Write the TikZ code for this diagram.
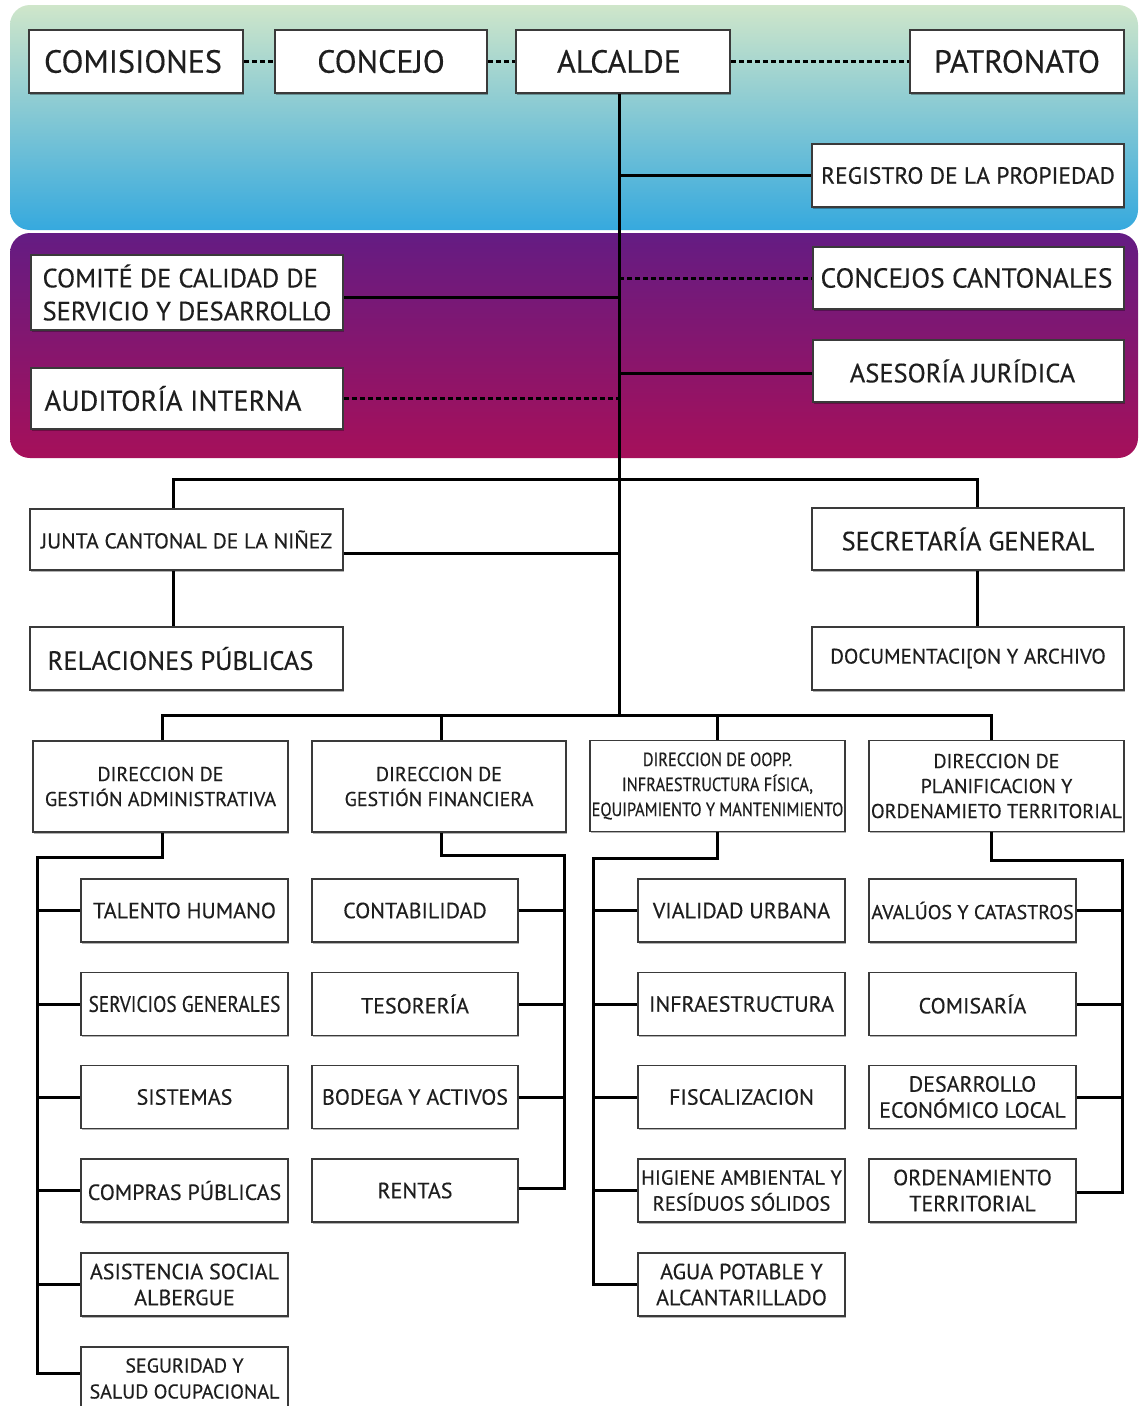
\documentclass[tikz,border=0pt]{standalone}
\usepackage{fontspec}
\setmainfont{PT Sans}[FakeBold=0.35]
\newfontfamily\condf{PT Sans}[FakeStretch=0.86,FakeBold=0.35]
\usetikzlibrary{shadows,calc}
\definecolor{bandA}{HTML}{CFE6CA}
\definecolor{bandB}{HTML}{36A9DE}
\definecolor{purA}{HTML}{641C83}
\definecolor{purB}{HTML}{A6105A}
\definecolor{edgec}{HTML}{3A3A3A}
\definecolor{txt}{HTML}{1E1E1E}
\begin{document}
\begin{tikzpicture}[x=1pt,y=-1pt,
  box/.style={draw=edgec, line width=1.6pt, fill=white, align=center, inner sep=0pt, text=txt,
    drop shadow={shadow xshift=1pt, shadow yshift=-1.5pt, opacity=0.3, fill=black}},
  conn/.style={line width=3pt, black, line join=miter},
  dconn/.style={line width=3pt, black, dash pattern=on 5pt off 3pt},
  fbig/.style={font=\fontsize{32}{36}\selectfont},
  fmid/.style={font=\fontsize{26.5}{30}\selectfont},
  fsm/.style={font=\fontsize{21.5}{25}\selectfont},
  fdir/.style={font=\fontsize{20}{25}\selectfont},
  fsub/.style={font=\fontsize{22}{26}\selectfont},
  fsubn/.style={font=\fontsize{20}{26}\selectfont},
  wide/.style={minimum width=312, minimum height=63},
  dirbox/.style={minimum width=255, minimum height=91},
  subbox/.style={minimum width=207, minimum height=63},
]
\useasboundingbox (0,0) rectangle (1140,1406);
\fill[white] (0,0) rectangle (1140,1406);
% bands
\shade[top color=bandA, bottom color=bandB, rounded corners=20pt] (10,5) rectangle (1138,230);
\shade[top color=purA, bottom color=purB, rounded corners=20pt] (10,233) rectangle (1138,458);

% coordinates
\coordinate (sx) at (619,0);
\coordinate (bus) at (619,715);
\coordinate (jl) at (173,479);
\coordinate (sr) at (977,479);
\coordinate (b1) at (162,715);
\coordinate (b2) at (441,715);
\coordinate (b3) at (717,715);
\coordinate (b4) at (991,715);
\coordinate (e1) at (37,857);
\coordinate (e2) at (564,855);
\coordinate (e3) at (593,858);
\coordinate (e4) at (1122,860);

% top row
\node[box,fbig,minimum width=214,minimum height=63] (com) at (136,61.5) {\hspace*{-6pt}COMISIONES};
\node[box,fbig,minimum width=212,minimum height=63] (con) at (381,61.5) {CONCEJO};
\node[box,fbig,minimum width=214,minimum height=63] (alc) at (623,61.5) {\hspace*{-8pt}ALCALDE};
\node[box,fbig,minimum width=214,minimum height=63] (pat) at (1017,61.5) {PATRONATO};
\node[box,font=\fontsize{23.5}{27}\selectfont,wide] (reg) at (968,175.5) {REGISTRO DE LA PROPIEDAD};

% purple band
\node[box,font=\fontsize{26.5}{33}\selectfont,minimum width=312,minimum height=75,align=left] (cmt) at (187,292.5) {COMITÉ DE CALIDAD DE\\SERVICIO Y DESARROLLO};
\node[box,font=\fontsize{27.5}{30}\selectfont,minimum width=311,minimum height=62] (ccn) at (968.5,278) {\hspace*{-4pt}CONCEJOS CANTONALES};
\node[box,fmid,minimum width=311,minimum height=62] (ase) at (968.5,371) {\hspace*{-12pt}ASESORÍA JURÍDICA};
\node[box,font=\fontsize{28.5}{30}\selectfont,minimum width=312,minimum height=61] (aud) at (187,398.5) {\hspace*{-28pt}AUDITORÍA INTERNA};

% middle
\node[box,fsm,minimum width=313,minimum height=61] (jun) at (186.5,539.5) {JUNTA CANTONAL DE LA NIÑEZ};
\node[box,fmid,minimum width=313,minimum height=63] (rel) at (186.5,658.5) {\hspace*{-12pt}RELACIONES PÚBLICAS};
\node[box,font=\fontsize{26.3}{30}\selectfont,minimum width=312,minimum height=62] (sec) at (968,539) {SECRETARÍA GENERAL};
\node[box,font=\fontsize{21}{25}\selectfont,minimum width=312,minimum height=63] (doc) at (968,658.5) {DOCUMENTACI[ON Y ARCHIVO};

% directors
\node[box,fdir,dirbox] (d1) at (160.5,786.5) {DIRECCION DE\\GESTIÓN ADMINISTRATIVA};
\node[box,fdir,dirbox,minimum width=254] (d2) at (439,786.5) {DIRECCION DE\\GESTIÓN FINANCIERA};
\node[box,font=\condf\fontsize{19}{25}\selectfont,dirbox] (d3) at (717.5,786) {DIRECCION DE OOPP.\\INFRAESTRUCTURA FÍSICA,\\EQUIPAMIENTO Y MANTENIMIENTO};
\node[box,fdir,dirbox] (d4) at (996.5,786) {DIRECCION DE\\PLANIFICACION Y\\ORDENAMIETO TERRITORIAL};

% column 1
\node[box,fsub,subbox] (c11) at (184.5,910.5) {TALENTO HUMANO};
\node[box,font=\condf\fontsize{22.5}{26}\selectfont,subbox] (c12) at (184.5,1004) {SERVICIOS GENERALES};
\node[box,fsub,subbox] (c13) at (184.5,1097) {SISTEMAS};
\node[box,fsub,subbox] (c14) at (184.5,1190.5) {COMPRAS PÚBLICAS};
\node[box,fsub,subbox] (c15) at (184.5,1284.5) {ASISTENCIA SOCIAL\\ALBERGUE};
\node[box,fsubn,subbox] (c16) at (184.5,1378.5) {SEGURIDAD Y\\SALUD OCUPACIONAL};
% column 2
\node[box,fsub,subbox,minimum width=206] (c21) at (415,910.5) {CONTABILIDAD};
\node[box,fsub,subbox,minimum width=206] (c22) at (415,1004) {TESORERÍA};
\node[box,fsub,subbox,minimum width=206] (c23) at (415,1097) {BODEGA Y ACTIVOS};
\node[box,fsub,subbox,minimum width=206] (c24) at (415,1190.5) {RENTAS};
% column 3
\node[box,fsub,subbox] (c31) at (741.5,910.5) {VIALIDAD URBANA};
\node[box,fsub,subbox] (c32) at (741.5,1004) {INFRAESTRUCTURA};
\node[box,fsub,subbox] (c33) at (741.5,1097) {FISCALIZACION};
\node[box,font=\fontsize{20.6}{26}\selectfont,subbox] (c34) at (741.5,1190.5) {HIGIENE AMBIENTAL Y\\RESÍDUOS SÓLIDOS};
\node[box,fsub,subbox] (c35) at (741.5,1284.5) {AGUA POTABLE Y\\ALCANTARILLADO};
% column 4
\node[box,fsubn,subbox] (c41) at (972.5,910.5) {AVALÚOS Y CATASTROS};
\node[box,fsub,subbox] (c42) at (972.5,1004) {COMISARÍA};
\node[box,fsub,subbox] (c43) at (972.5,1097) {DESARROLLO\\ECONÓMICO LOCAL};
\node[box,fsub,subbox] (c44) at (972.5,1190.5) {ORDENAMIENTO\\TERRITORIAL};

% connectors: top
\draw[dconn] (com.east) -- (con.west);
\draw[dconn] (con.east) -- (alc.west);
\draw[dconn] (alc.east) -- (pat.west);
\draw[conn] (alc.south -| sx) -- (bus);
\draw[conn] (reg.west -| sx) -- (reg.west);
\draw[conn] ([yshift=-4.5pt]cmt.east) -- ([yshift=-4.5pt]cmt.east -| sx);
\draw[dconn] (ccn.west -| sx) -- (ccn.west);
\draw[conn] ([yshift=-2pt]ase.west -| sx) -- ([yshift=-2pt]ase.west);
\draw[dconn] (aud.east) -- (aud.east -| sx);
% middle
\draw[conn] (jun.north -| jl) -- (jl) -- (sr) -- (sec.north -| sr);
\draw[conn] ([yshift=-14pt]jun.east) -- ([yshift=-14pt]jun.east -| sx);
\draw[conn] (jun.south -| jl) -- (rel.north -| jl);
\draw[conn] (sec.south -| sr) -- (doc.north -| sr);
% director bus
\draw[conn] (d1.north -| b1) -- (b1) -- (b4) -- (d4.north -| b4);
\draw[conn] (b2) -- (d2.north -| b2);
\draw[conn] (b3) -- (d3.north -| b3);
% column 1
\draw[conn] (d1.south -| b1) -- (b1 |- e1) -- (e1) -- ([yshift=5pt]c16.west -| e1) -- ([yshift=5pt]c16.west);
\foreach \n in {c11,c12,c13,c14,c15} \draw[conn] (\n.west -| e1) -- (\n.west);
% column 2
\draw[conn] (d2.south -| b2) -- (b2 |- e2) -- (e2) -- ([yshift=2pt]c24.east -| e2) -- ([yshift=2pt]c24.east);
\foreach \n in {c21,c22,c23} \draw[conn] (\n.east -| e2) -- (\n.east);
% column 3
\draw[conn] (d3.south -| b3) -- (b3 |- e3) -- (e3) -- (c35.west -| e3) -- (c35.west);
\foreach \n in {c31,c32,c33,c34} \draw[conn] (\n.west -| e3) -- (\n.west);
% column 4
\draw[conn] (d4.south -| b4) -- (b4 |- e4) -- (e4) -- ([yshift=-2pt]c44.east -| e4) -- ([yshift=-2pt]c44.east);
\foreach \n in {c41,c42,c43} \draw[conn] (\n.east -| e4) -- (\n.east);
\end{tikzpicture}
\end{document}
